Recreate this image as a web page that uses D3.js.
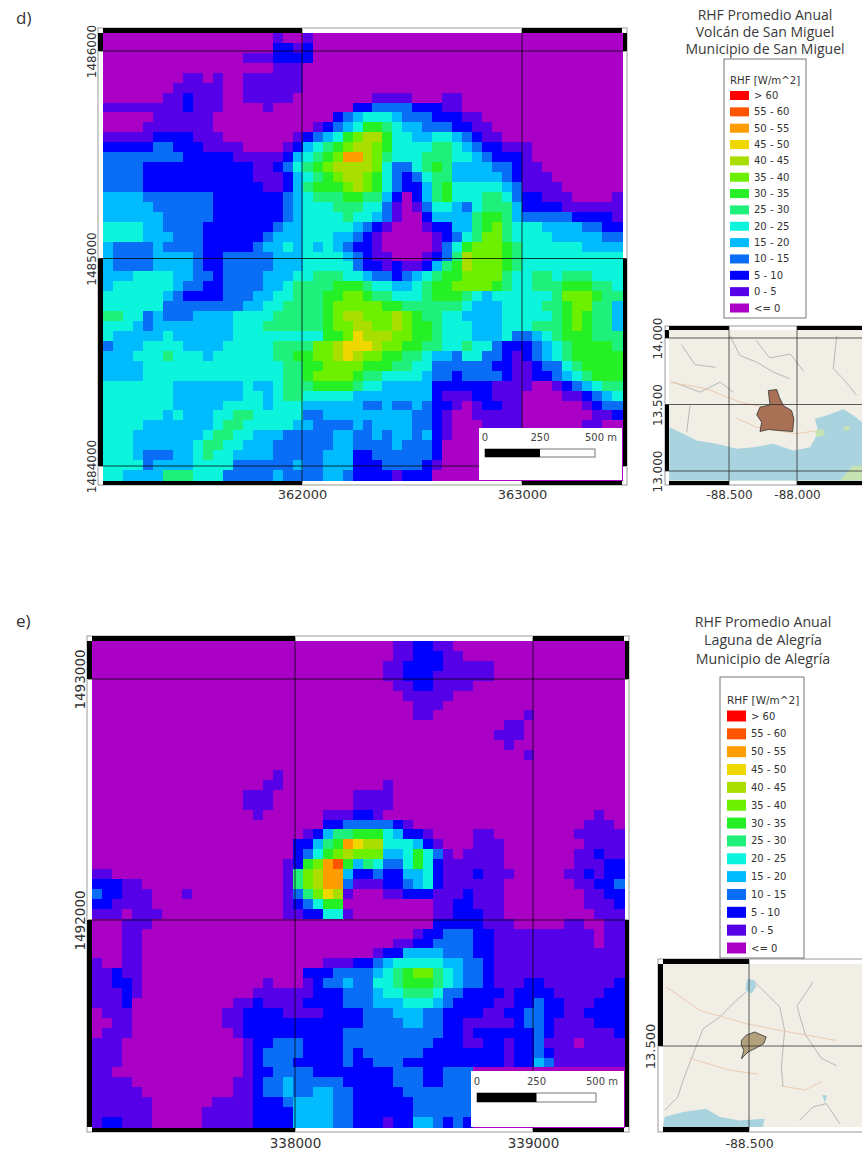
<!DOCTYPE html>
<html lang="en">
  <head>
    <meta charset="UTF-8" />
    <title>RHF Promedio Anual</title>
    <script src="https://d3js.org/d3.v7.min.js"></script>
    <style>
      html, body { margin: 0; padding: 0; background: #fff; }
      text { fill: #333; }
    </style>
  </head>

  <body>
    <svg width="862" height="1152" viewBox="0 0 862 1152"></svg>

    <script>
      // legend classes, index = character used in the grids (a=10, b=11 ...)
      const classLabels = ["<= 0", "0 - 5", "5 - 10", "10 - 15", "15 - 20", "20 - 25", "25 - 30",
        "30 - 35", "35 - 40", "40 - 45", "45 - 50", "50 - 55", "55 - 60", "> 60"];
      const classColors = ["#aa00c6", "#5500e6", "#0000ff", "#0a6df5", "#00bcff", "#0cf5dc", "#1ff07c",
        "#25f025", "#6cf000", "#aade00", "#eed800", "#ff9c00", "#ff5500", "#ff0000"];

      const titleD = ["RHF Promedio Anual", "Volcán de San Miguel", "Municipio de San Miguel"];
      const titleE = ["RHF Promedio Anual", "Laguna de Alegría", "Municipio de Alegría"];
      const legendHeading = "RHF [W/m^2]";

      const ticksXD = [362000, 363000];
      const ticksYD = [1486000, 1485000, 1484000];
      const ticksXE = [338000, 339000];
      const ticksYE = [1493000, 1492000];
      const scaleBarMetres = [0, 250, 500];

      // class per raster cell, one string per row
      const gridD = [
        "0000000000000000010010000000000000000000000000000000",
        "0000000000000000022120000000000000000000000000000000",
        "0000000000000011122220000000000000000000000000000000",
        "0000000000000000011100000000000000000000000000000000",
        "0000000011010011111100000000000000000000000000000000",
        "0000000111110011111100000000000000000000000000000000",
        "0000001121110011111000000001111000110000000000000000",
        "1111111121110000100000000223333222110000000000000000",
        "0000011111100000000000023455543332221100000000000000",
        "0000111111100000000001234577654433322110000000000000",
        "1111122221110000000123457899755445543211000000000000",
        "2222233222111100001245678998755556654322111000000000",
        "333333332222211111245678bb98655566655432221000000000",
        "3333222222222221123567899998533567644443321100000000",
        "3333222222222221112456789987532356644444321110000000",
        "3333222222222222112467778987532246755555431111000000",
        "4444333333322222223456667766420246755566532211100001",
        "4444433333322222223455566655310135543566642222111111",
        "4444443333322222223455556554310024444677643333322221",
        "5555443333222222234455555432100012244678655544443322",
        "5555444333222222344455544321000001235688655554444433",
        "4333343333222223445454543221000001357888765555554444",
        "4333344443223333344455554321100012369888765555555555",
        "4333344443223333344455555322121124679888765555555555",
        "4445555443323333444556665543323456778888655665666555",
        "4555555433223333445666677765544567788887655666777665",
        "5555554322223334455666778876655567776545555556888766",
        "5555553333333344556666788888776666665444555566788664",
        "6655343334444555566666789988898766554444555556787664",
        "5554344444444555666666788998898776555444555666787664",
        "5444445444444555555555778a99988776555444533456777666",
        "344455554444555556666889aaa9887766556553222345677776",
        "444555655545555556677889a988776654435533212345677777",
        "4444555555555555556677888877766553333332211233567777",
        "4444555555555555556678888766555543323333211223456777",
        "5555555444444454456667777655444442222221111001234566",
        "5555555444444455456655555444444442111221110000112345",
        "5555555444445555455544444433433432210122110000001233",
        "5555554544455665555533444444444332100111110000000112",
        "5555444444456655555443333434444332100011110000001100",
        "5554444444566554443333344334344342100000000000000000",
        "5554444445665544433333344333343332000000000000000000",
        "5554333445655444433333444223333332000000000000000000",
        "5555344445555333333433444222333321000000000000000000",
        "5544446665553333343333443222212220000000000000000000",
      ];

      const gridE = [
        "00000000000000000000000000000011221100000000000000000",
        "00000000000000000000000000000011222110000000000000000",
        "00000000000000000000000000000112222111110000000000000",
        "00000000000000000000000000000112221111110000000000000",
        "00000000000000000000000000000011221111000000000000000",
        "00000000000000000000000000000001111100000000000000000",
        "00000000000000000000000000000000111000000000000000000",
        "00000000000000000000000000000000110000000001000000000",
        "00000000000000000000000000000000000000000110000000000",
        "00000000000000000000000000000000000000001110000000000",
        "00000000000000000000000000000000000000000100000000000",
        "00000000000000000000000000000000000000000001000000000",
        "00000000000000000000000000000000000000000000000000000",
        "00000000000000000010000000000000000000000000000000000",
        "00000000000000000110000000000100000000000000000000000",
        "00000000000000011100000000111100000000000000000000000",
        "00000000000000011100000000111100000000000000000000000",
        "00000000000000001000000111221000000000000000000000100",
        "00000000000000000000000223333321000000000000000001110",
        "00000000000000000000012466777542210000110000000011111",
        "0000000000000000000022467ba99555421000111000000001111",
        "00000000000000000000235789888445753101111000000011211",
        "00000000000000000001278bc7465335752111111000000011122",
        "11000000000000000001689bb4223224452111211100000112122",
        "22211000000000000001689bb3111223452111111000000011223",
        "32211100010000000001368a91000112221112111000000001122",
        "22111100000000000001235770000000001122111000000001112",
        "11101110000000000001122551000000001122211000000000111",
        "00011100000000000000000000000000002222211100000110011",
        "00011000000000000000000000000000122333221111111111011",
        "00011000000000000000000000000011223333221111111111011",
        "00011000000000000000000000001224444333221111111111111",
        "10011000000000000000000111223455555443321111111111111",
        "11211000000000000000022233334567886543321111111111111",
        "11221000000000000100012334335567776543321112211111112",
        "11121000000000001111112223334556665332222122221111122",
        "11120000000000112111122223334445554322221122322111222",
        "01110000000001122221111222233344433222211223322112222",
        "00110000000001122222222222233334433221111123321111222",
        "01110000000000122222222223333333333221222222321111112",
        "11100000000000012233322223333333332221122122311101111",
        "11100000000000012333322223233333322222222122321111111",
        "11100000000000012333222223223332222222222122431111111",
        "11000000000000012233332222222233322333000000000000000",
        "11110000000000112334333332222233322333000000000000000",
        "11111000000000112334334433222223333333000000000000000",
        "11111100000011112223444433222222333333000000000000000",
        "11111100000111112222444433222222333333000000000000000",
        "12211100000111112222444433222122443232000000000000000",
      ];

      // inset outlines in degrees
      const deptD = [[-88.211, 13.605], [-88.149, 13.613], [-88.13, 13.555], [-88.101, 13.492], [-88.04, 13.455],
        [-88.023, 13.392], [-88.032, 13.297], [-88.137, 13.305], [-88.211, 13.312], [-88.272, 13.297],
        [-88.26, 13.367], [-88.296, 13.422], [-88.272, 13.48], [-88.199, 13.497]];
      const seaD = [[-88.939, 13.329], [-88.836, 13.28], [-88.738, 13.229], [-88.59, 13.204], [-88.443, 13.167],
        [-88.321, 13.179], [-88.174, 13.204], [-88.027, 13.154], [-87.904, 13.179], [-87.843, 13.292],
        [-87.868, 13.392], [-87.782, 13.417], [-87.659, 13.467], [-87.586, 13.417], [-87.522, 13.367],
        [-87.522, 12.929], [-88.939, 12.929]];
      const greenD = [[-87.684, 12.929], [-87.586, 13.041], [-87.522, 13.041], [-87.522, 12.929]];
      const islandD = [[-87.868, 13.305], [-87.807, 13.317], [-87.794, 13.267], [-87.855, 13.254]];
      const isletD = [[-87.66, 13.33], [-87.62, 13.34], [-87.61, 13.31], [-87.65, 13.30]];
      const greysD = [
        [[-88.493, 14.019], [-88.419, 13.868], [-88.296, 13.818], [-88.174, 13.743], [-88.051, 13.693]],
        [[-87.708, 14.019], [-87.733, 13.768], [-87.659, 13.693], [-87.561, 13.568]],
        [[-88.91, 13.668], [-88.713, 13.593], [-88.566, 13.668], [-88.468, 13.593]],
        [[-88.787, 13.492], [-88.811, 13.292]],
        [[-88.85, 13.95], [-88.75, 13.8], [-88.6, 13.78]],
        [[-88.3, 13.98], [-88.2, 13.85], [-88.05, 13.88], [-87.95, 13.75]],
      ];
      const roadsD = [
        [[-88.934, 13.668], [-88.664, 13.618], [-88.419, 13.517], [-88.051, 13.442]],
        [[-88.45, 13.4], [-88.3, 13.33], [-88.0, 13.28], [-87.88, 13.3]],
      ];

      const deptE = [[-88.519, 13.514], [-88.507, 13.527], [-88.486, 13.535], [-88.457, 13.5225], [-88.463, 13.506],
        [-88.486, 13.493], [-88.5025, 13.485], [-88.519, 13.468], [-88.513, 13.489], [-88.519, 13.502]];
      const seaE = [[-88.711, 13.3225], [-88.665, 13.335], [-88.607, 13.343], [-88.573, 13.3225], [-88.523, 13.314],
        [-88.461, 13.318], [-88.465, 13.2975], [-88.715, 13.2975]];
      const lakeE = [[-88.5025, 13.668], [-88.486, 13.664], [-88.482, 13.6475], [-88.494, 13.631], [-88.508, 13.639], [-88.507, 13.656]];
      const pondE = [[-88.317, 13.377], [-88.305, 13.377], [-88.31, 13.3575]];
      const greysE = [
        [[-88.507, 13.635], [-88.532, 13.614], [-88.573, 13.5725], [-88.615, 13.543], [-88.636, 13.489], [-88.665, 13.414], [-88.678, 13.3725], [-88.711, 13.339]],
        [[-88.486, 13.66], [-88.423, 13.5975], [-88.411, 13.539], [-88.419, 13.4475], [-88.415, 13.3975]],
        [[-88.373, 13.314], [-88.34, 13.3475], [-88.307, 13.356], [-88.273, 13.306]],
        [[-88.34, 13.66], [-88.38, 13.6], [-88.36, 13.53], [-88.32, 13.47], [-88.28, 13.45]],
      ];
      const roadsE = [
        [[-88.707, 13.6475], [-88.623, 13.589], [-88.507, 13.556], [-88.423, 13.539], [-88.282, 13.514]],
        [[-88.65, 13.47], [-88.55, 13.44], [-88.48, 13.43]],
        [[-88.42, 13.4], [-88.36, 13.39], [-88.32, 13.41]],
      ];

      let svg = d3.select("svg");
      const axisFont = "'DejaVu Sans'";
      const textFont = "'Open Sans'";
      const classColor = d3.scaleOrdinal().domain(d3.range(classColors.length)).range(classColors);

      // frame of black and white stretches that change at the ticks
      function drawFrame(g, box, x, y, xTicks, yTicks, t) {
        g.append("rect").attr("x", box.l - t).attr("y", box.t - t)
          .attr("width", box.r - box.l + 2 * t).attr("height", box.b - box.t + 2 * t)
          .attr("fill", "#fff").attr("stroke", "#999").attr("stroke-width", 1);

        const xs = [box.l].concat(xTicks.map(x), [box.r]);
        const ys = [box.t].concat(yTicks.map(y), [box.b]);
        d3.pairs(xs).forEach(function (p, i) {
          if (i % 2 == 0) {
            g.append("rect").attr("x", p[0]).attr("width", p[1] - p[0]).attr("y", box.t - t).attr("height", t);
            g.append("rect").attr("x", p[0]).attr("width", p[1] - p[0]).attr("y", box.b).attr("height", t);
          }
        });
        d3.pairs(ys).forEach(function (p, i) {
          if (i % 2 == 0) {
            g.append("rect").attr("y", p[0]).attr("height", p[1] - p[0]).attr("x", box.l - t).attr("width", t);
            g.append("rect").attr("y", p[0]).attr("height", p[1] - p[0]).attr("x", box.r).attr("width", t);
          }
        });
      }

      function drawAxes(g, x, y, xTicks, yTicks, fmt, xBase, yBase, fontSizeX, fontSizeY) {
        const bottom = g.append("g").attr("transform", "translate(0," + yBase + ")")
          .call(d3.axisBottom(x).tickValues(xTicks).tickFormat(fmt).tickSize(0).tickPadding(0));
        bottom.select(".domain").remove();
        bottom.selectAll("text").attr("y", 0).attr("dy", 0)
          .attr("font-family", axisFont).attr("font-size", fontSizeX);

        const left = g.append("g").attr("transform", "translate(" + xBase + ",0)")
          .call(d3.axisLeft(y).tickValues(yTicks).tickFormat(fmt).tickSize(0).tickPadding(0));
        left.select(".domain").remove();
        left.selectAll("text").attr("x", 0).attr("y", 0).attr("dy", 0)
          .attr("text-anchor", "middle").attr("transform", "rotate(-90)")
          .attr("font-family", axisFont).attr("font-size", fontSizeY);
      }

      function drawGridLines(g, box, x, y, xTicks, yTicks, color) {
        g.selectAll(".gx").data(xTicks).enter().append("line")
          .attr("x1", d => x(d)).attr("x2", d => x(d)).attr("y1", box.t - 4).attr("y2", box.b + 4)
          .attr("stroke", color).attr("stroke-width", 1);
        g.selectAll(".gy").data(yTicks).enter().append("line")
          .attr("y1", d => y(d)).attr("y2", d => y(d)).attr("x1", box.l - 4).attr("x2", box.r + 4)
          .attr("stroke", color).attr("stroke-width", 1);
      }

      function drawRaster(g, box, grid) {
        const cols = d3.range(d3.max(grid, d => d.length));
        const bandX = d3.scaleBand().domain(cols).range([box.l, box.r]);
        const bandY = d3.scaleBand().domain(d3.range(grid.length)).range([box.t, box.b]);
        const cells = [];
        grid.forEach(function (row, r) {
          row.split("").forEach(function (ch, c) {
            cells.push({ r: r, c: c, v: parseInt(ch, 16) });
          });
        });
        g.append("rect").attr("x", box.l).attr("y", box.t).attr("width", box.r - box.l)
          .attr("height", box.b - box.t).attr("fill", classColors[0]);
        g.append("g").attr("shape-rendering", "crispEdges")
          .selectAll("rect").data(cells).enter().append("rect")
          .attr("x", d => bandX(d.c)).attr("y", d => bandY(d.r))
          .attr("width", bandX.bandwidth() + 0.5).attr("height", bandY.bandwidth() + 0.5)
          .attr("fill", d => classColor(d.v));
      }

      function drawScaleBar(g, x, box, bar) {
        g.append("rect").attr("x", box.l).attr("y", box.t).attr("width", box.r - box.l)
          .attr("height", box.b - box.t).attr("fill", "#fff");
        const len = d3.scaleLinear().domain([0, 500]).range([bar.x, bar.x + x(x.domain()[0] + 500) - x(x.domain()[0])]);
        g.append("rect").attr("x", len(0)).attr("y", bar.y).attr("width", len(500) - len(0)).attr("height", bar.h)
          .attr("fill", "#fff").attr("stroke", "#777").attr("stroke-width", 1);
        g.append("rect").attr("x", len(0)).attr("y", bar.y).attr("width", len(250) - len(0)).attr("height", bar.h)
          .attr("fill", "#000");
        g.selectAll(".lab").data(scaleBarMetres).enter().append("text")
          .attr("x", d => d == 500 ? len(d) + 22 : len(d))
          .attr("y", bar.textY)
          .attr("text-anchor", d => d == 500 ? "end" : "middle")
          .attr("font-family", axisFont).attr("font-size", 10).style("fill", "#444")
          .text(d => d == 500 ? "500 m" : d);
      }

      function drawMainMap(g, cfg) {
        const x = d3.scaleLinear().domain(cfg.xDomain).range(cfg.xRange);
        const y = d3.scaleLinear().domain(cfg.yDomain).range(cfg.yRange);
        drawFrame(g, cfg.box, x, y, cfg.xTicks, cfg.yTicks, cfg.t);
        drawRaster(g, cfg.box, cfg.grid);
        drawGridLines(g, cfg.box, x, y, cfg.xTicks, cfg.yTicks, "rgba(0,0,0,0.75)");
        drawScaleBar(g, x, cfg.sbBox, cfg.sbBar);
        drawAxes(g, x, y, cfg.xTicks, cfg.yTicks, d3.format("d"), cfg.yAxisX, cfg.xAxisY, cfg.fontX, cfg.fontY);
      }

      function drawTitle(g, lines, cx, baselines, size) {
        g.selectAll(".title").data(lines).enter().append("text")
          .attr("x", cx).attr("y", (d, i) => baselines[i]).attr("text-anchor", "middle")
          .attr("font-family", textFont).attr("font-size", size).style("fill", "#3a3a3a")
          .text(d => d);
      }

      function drawLegend(g, cfg) {
        g.append("rect").attr("x", cfg.box.l).attr("y", cfg.box.t)
          .attr("width", cfg.box.r - cfg.box.l).attr("height", cfg.box.b - cfg.box.t)
          .attr("fill", "#fff").attr("stroke", "#777").attr("stroke-width", 1);
        g.append("text").attr("x", cfg.swatchX).attr("y", cfg.headY)
          .attr("font-family", axisFont).attr("font-size", cfg.headSize).style("fill", "#333").text(legendHeading);
        const order = d3.range(classLabels.length).reverse();
        const rowY = d3.scalePoint().domain(order).range([cfg.firstY, cfg.lastY]);
        const rows = g.selectAll(".row").data(order).enter().append("g")
          .attr("transform", d => "translate(" + cfg.swatchX + "," + rowY(d) + ")");
        rows.append("rect").attr("x", 0).attr("y", -cfg.swatchH / 2).attr("width", 19).attr("height", cfg.swatchH)
          .attr("fill", d => classColors[d]);
        rows.append("text").attr("x", cfg.labelDx).attr("dy", "0.35em")
          .attr("font-family", axisFont).attr("font-size", cfg.labelSize).style("fill", "#333")
          .text(d => classLabels[d]);
      }

      function drawInset(g, cfg, id) {
        const x = d3.scaleLinear().domain(cfg.xDomain).range(cfg.xRange);
        const y = d3.scaleLinear().domain(cfg.yDomain).range(cfg.yRange);
        const line = d3.line().x(d => x(d[0])).y(d => y(d[1]));
        drawFrame(g, cfg.box, x, y, cfg.xTicks, cfg.yTicks, cfg.t);

        d3.select("svg").append("clipPath").attr("id", id).append("rect")
          .attr("x", cfg.box.l).attr("y", cfg.box.t).attr("width", cfg.box.r - cfg.box.l).attr("height", cfg.box.b - cfg.box.t);
        const m = g.append("g").attr("clip-path", "url(#" + id + ")");
        m.append("rect").attr("x", cfg.box.l).attr("y", cfg.box.t).attr("width", cfg.box.r - cfg.box.l)
          .attr("height", cfg.box.b - cfg.box.t).attr("fill", "#f1eee6");
        (cfg.greys || []).forEach(d => m.append("path").attr("d", line(d)).attr("fill", "none").attr("stroke", "#a9a9a9").attr("stroke-width", 0.8));
        (cfg.roads || []).forEach(d => m.append("path").attr("d", line(d)).attr("fill", "none").attr("stroke", "#edc9b0").attr("stroke-width", 1));
        (cfg.water || []).forEach(d => m.append("path").attr("d", line(d) + "Z").attr("fill", "#a9d3de"));
        (cfg.green || []).forEach(d => m.append("path").attr("d", line(d) + "Z").attr("fill", "#c7e3b4"));
        m.append("path").attr("d", line(cfg.dept) + "Z").attr("fill", cfg.deptColor).attr("stroke", "#333").attr("stroke-width", 0.8);

        drawGridLines(g, cfg.box, x, y, cfg.xTicks, cfg.yTicks, "rgba(40,40,40,0.75)");
        drawAxes(g, x, y, cfg.xTicks, cfg.yTicks, d => d.toFixed(3), cfg.yAxisX, cfg.xAxisY, cfg.fontX, cfg.fontY);
      }

      // panel d
      const gd = svg.append("g");
      gd.append("text").attr("x", 16).attr("y", 24).attr("font-family", textFont).attr("font-size", 17).style("fill", "#333").text("d)");
      drawMainMap(gd, {
        grid: gridD, xTicks: ticksXD, yTicks: ticksYD,
        xDomain: [362000, 363000], xRange: [302, 522],
        yDomain: [1486000, 1484000], yRange: [51, 466],
        box: { l: 103, r: 622, t: 33, b: 480 }, t: 5,
        sbBox: { l: 479, r: 622, t: 428, b: 480 },
        sbBar: { x: 485, y: 449, h: 8, textY: 441 },
        yAxisX: 96, xAxisY: 499, fontX: 13, fontY: 12
      });
      drawTitle(gd, titleD, 765, [20, 37, 54], 14);
      drawLegend(gd, {
        box: { l: 724, r: 806, t: 59, b: 318 }, swatchX: 730, headY: 84, headSize: 10.2,
        firstY: 95.5, lastY: 308, swatchH: 9, labelDx: 24, labelSize: 10
      });
      drawInset(gd, {
        xDomain: [-88.5, -88.0], xRange: [729, 797],
        yDomain: [14, 13], yRange: [338, 471],
        xTicks: [-88.5, -88.0], yTicks: [14, 13.5, 13],
        box: { l: 669, r: 862, t: 330, b: 481 }, t: 4,
        water: [seaD], green: [greenD, islandD, isletD], greys: greysD, roads: roadsD, dept: deptD, deptColor: "#a87155",
        yAxisX: 662, xAxisY: 499, fontX: 12, fontY: 12
      }, "clipD");

      // panel e
      const ge = svg.append("g");
      ge.append("text").attr("x", 16).attr("y", 627).attr("font-family", textFont).attr("font-size", 17).style("fill", "#333").text("e)");
      drawMainMap(ge, {
        grid: gridE, xTicks: ticksXE, yTicks: ticksYE,
        xDomain: [338000, 339000], xRange: [295, 533],
        yDomain: [1493000, 1492000], yRange: [679, 920],
        box: { l: 92, r: 624, t: 641, b: 1127 }, t: 5,
        sbBox: { l: 471, r: 624, t: 1071, b: 1127 },
        sbBar: { x: 477, y: 1093, h: 9, textY: 1085 },
        yAxisX: 85, xAxisY: 1148, fontX: 13.5, fontY: 13.5
      });
      drawTitle(ge, titleE, 763, [627, 645, 664], 14.2);
      drawInset(ge, {
        xDomain: [-88.5, -88.0], xRange: [749, 949],
        yDomain: [13.5, 13.0], yRange: [1046, 1246],
        xTicks: [-88.5], yTicks: [13.5],
        box: { l: 663, r: 862, t: 964, b: 1127 }, t: 5,
        water: [seaE, lakeE, pondE], greys: greysE, roads: roadsE, dept: deptE, deptColor: "#b3a07c",
        yAxisX: 655, xAxisY: 1148, fontX: 12.5, fontY: 13
      }, "clipE");
      drawLegend(ge, {
        box: { l: 720, r: 804, t: 677, b: 958 }, swatchX: 727, headY: 704, headSize: 10.5,
        firstY: 716, lastY: 948, swatchH: 11, labelDx: 24, labelSize: 10
      });
    </script>
  </body>
</html>
